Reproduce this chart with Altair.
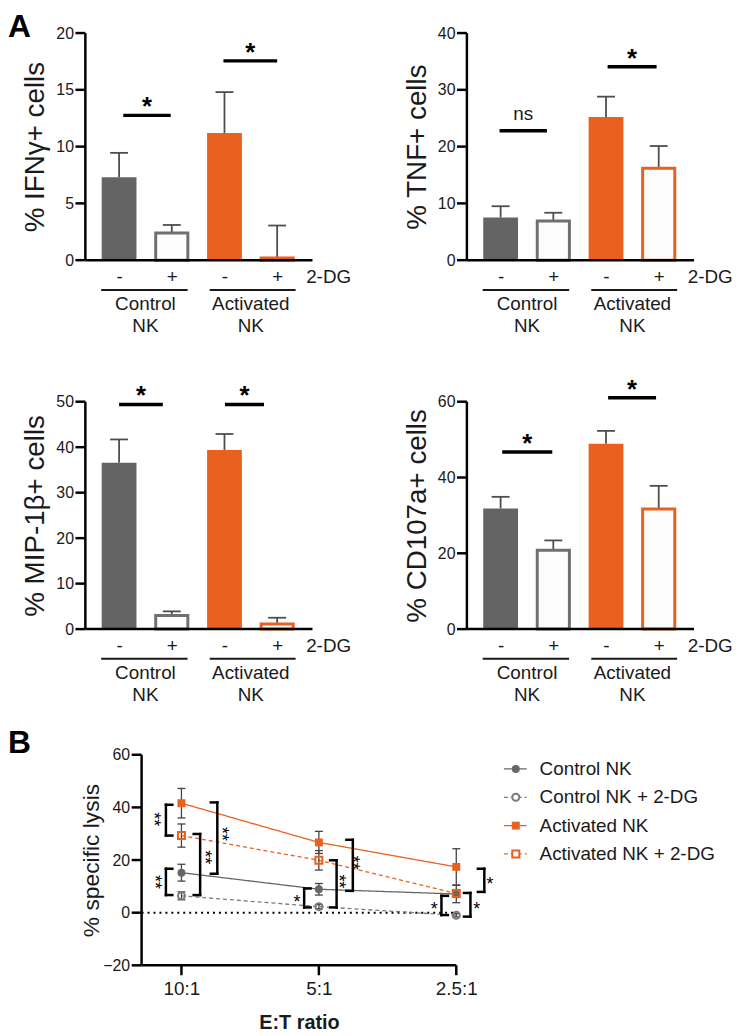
import altair as alt
import pandas as pd

FONT = "Liberation Sans"
INK = "#1a1a1a"
GRAY = "#646464"
GRAY_OPEN = "#707070"
ORANGE = "#EA601E"
ERR = "#4d4d4d"
B_GRAY = "#666666"
B_GRAY2 = "#7a7a7a"
AXW = 2.5  # axis line width

CW, CH = 730, 1028  # whole drawing surface

# ================= Panel A data =================
conditions = ["Control NK -", "Control NK +", "Activated NK -", "Activated NK +"]
groups = ["Control NK", "Control NK", "Activated NK", "Activated NK"]
dg = ["-", "+", "-", "+"]
group_labels = ["Control\nNK", "Activated\nNK"]
dg_text = ["2-DG"]

ifng_mean = [7.3, 2.4, 11.2, 0.2]
ifng_top = [9.45, 3.1, 14.8, 3.05]
tnf_mean = [7.5, 6.9, 25.2, 16.2]
tnf_top = [9.5, 8.35, 28.8, 20.1]
mip_mean = [36.6, 3.0, 39.4, 1.1]
mip_top = [41.7, 3.9, 42.9, 2.5]
cd_mean = [31.8, 20.8, 48.9, 31.7]
cd_top = [34.9, 23.4, 52.3, 37.8]

# significance bars: from, to, height, label
ifng_sig = [[0.08, 0.98, 12.75, "*"], [1.98, 3.00, 17.55, "*"]]
tnf_sig = [[-0.02, 0.88, 22.8, "ns"], [2.03, 2.96, 34.05, "*"]]
mip_sig = [[0.00, 0.83, 49.4, "*"], [2.01, 2.75, 49.4, "*"]]
cd_sig = [[0.03, 0.98, 46.7, "*"], [2.04, 2.95, 61.05, "*"]]

# ================= Panel B data =================
ratios = ["10:1", "5:1", "2.5:1"]
series = ["Control NK", "Control NK + 2-DG", "Activated NK", "Activated NK + 2-DG"]
ctrl = [15.2, 8.9, 7.1]
ctrl_err = [3.2, 2.2, 3.3]
ctrl_dg = [6.4, 2.3, -1.0]
ctrl_dg_err = [1.5, 0.8, 0.6]
act = [41.6, 26.7, 17.4]
act_err = [5.6, 4.2, 6.9]
act_dg = [29.3, 19.9, 7.3]
act_dg_err = [4.4, 3.7, 1.5]
lysis_ticks = [-20, 0, 20, 40, 60]

# brackets: vertical x, tick end x, y1, y2, label, label x, label y, rotated
brackets = [
    [-0.113, -0.066, 41.0, 29.3, "**", -0.172, 35.5, 1],
    [-0.113, -0.066, 16.7, 6.7, "**", -0.165, 11.7, 1],
    [0.136, 0.089, 29.9, 6.7, "**", 0.203, 21.1, 1],
    [0.261, 0.214, 41.9, 14.8, "**", 0.323, 29.9, 1],
    [0.893, 0.940, 9.2, 2.0, "*", 0.840, 5.4, 0],
    [1.129, 1.082, 19.9, 2.0, "**", 1.175, 11.9, 1],
    [1.247, 1.200, 27.7, 8.3, "**", 1.278, 19.0, 1],
    [1.892, 1.939, 6.4, -0.9, "*", 1.839, 2.9, 0],
    [2.103, 2.056, 7.5, -1.5, "*", 2.149, 2.9, 0],
    [2.204, 2.157, 16.7, 7.9, "*", 2.245, 12.3, 0],
]

XD = [-0.64, 3.67]
DG_EXPR = "[" + ",".join("'%s'" % s for s in dg) + "][datum.value]"
RATIO_EXPR = "[" + ",".join("'%s'" % s for s in ratios) + "][datum.value]"


def bar_panel(left, top, w, h, title, mean, tops, sig, ymax, yticks):
    bottom = top + h
    df = pd.DataFrame({"pos": [0, 1, 2, 3], "cond": conditions, "group": groups,
                       "dg": dg, "mean": mean, "top": tops})
    sig_df = pd.DataFrame(sig, columns=["s1", "s2", "sy", "lab"])
    grp_df = pd.DataFrame({"gpos": [0.5, 2.5], "glab": group_labels})
    und_df = pd.DataFrame({"u1": [-0.34, 1.72], "u2": [1.30, 3.35]})
    dg_df = pd.DataFrame({"tpos": [3.55], "t": dg_text})
    tick_df = pd.DataFrame({"t": yticks})
    dom_df = pd.DataFrame({"y0": [0], "y1": [ymax], "x0": [XD[0]], "x1": [XD[1]]})

    xs = alt.Scale(domain=XD, range=[left, left + w], nice=False, zero=False)
    ys = alt.Scale(domain=[0, ymax], range=[bottom, top], nice=False, zero=False)
    x_axis = alt.Axis(orient="bottom", offset=bottom - CH, values=[0, 1, 2, 3],
                      labelExpr=DG_EXPR, ticks=False, domain=False, labelPadding=8,
                      labelFontSize=19, labelFont=FONT, labelColor=INK, labelAngle=0,
                      labelFlush=False, grid=False, title=None)
    y_axis = alt.Axis(orient="left", offset=-left, values=yticks, title=title,
                      titleFont=FONT, titleFontSize=28, titleFontWeight="normal",
                      titleColor=INK, titleX=-42, titleY=top + h / 2, titleAngle=270,
                      titleAlign="center", titleBaseline="alphabetic",
                      labelFont=FONT, labelFontSize=16, labelColor=INK, labelPadding=12,
                      ticks=False, domain=False, grid=False)

    # every layer carries the same axis definition so they merge into one axis
    def X(f):
        return alt.X(f, type="quantitative", scale=xs, axis=x_axis)

    def Y(f):
        return alt.Y(f, type="quantitative", scale=ys, axis=y_axis)

    is_ctrl = alt.datum.group == "Control NK"

    err = alt.Chart(df).mark_rule(color=ERR, strokeWidth=1.8).encode(
        x=X("pos"), y=Y("mean"), y2="top")
    cap = alt.Chart(df).transform_calculate(
        c1="datum.pos - 0.17", c2="datum.pos + 0.17"
    ).mark_rule(color=ERR, strokeWidth=1.8).encode(x=X("c1"), x2="c2", y=Y("top"))
    filled = alt.Chart(df).transform_filter(alt.datum.dg == "-").transform_calculate(
        b1="datum.pos - 0.33", b2="datum.pos + 0.33", zero="0"
    ).mark_rect().encode(
        x=X("b1"), x2="b2", y=Y("mean"), y2="zero",
        fill=alt.when(is_ctrl).then(alt.value(GRAY)).otherwise(alt.value(ORANGE)))
    hollow = alt.Chart(df).transform_filter(alt.datum.dg == "+").transform_calculate(
        b1="datum.pos - 0.305", b2="datum.pos + 0.305", zero="0"
    ).mark_rect(fill="#fdfdfd", strokeWidth=3).encode(
        x=X("b1"), x2="b2", y=Y("mean"), y2="zero",
        stroke=alt.when(is_ctrl).then(alt.value(GRAY_OPEN)).otherwise(alt.value(ORANGE)))
    # axis lines and ticks (drawn through the panel scales)
    ydom = alt.Chart(dom_df).mark_rule(color="black", strokeWidth=AXW).encode(
        x=alt.value(left), y=Y("y0"), y2="y1")
    xdom = alt.Chart(dom_df).mark_rule(color="black", strokeWidth=AXW).encode(
        x=X("x0"), x2="x1", y=Y("y0"))
    yt = alt.Chart(tick_df).mark_rule(color="black", strokeWidth=AXW).encode(
        x=alt.value(left - 10), x2=alt.value(left), y=Y("t"))
    sig_line = alt.Chart(sig_df).mark_rule(color="black", strokeWidth=3.5).encode(
        x=X("s1"), x2="s2", y=Y("sy"))
    stars = alt.Chart(sig_df).transform_filter(alt.datum.lab == "*").transform_calculate(
        sm="(datum.s1 + datum.s2) / 2"
    ).mark_text(font=FONT, fontSize=26, fontWeight="bold", baseline="alphabetic",
                align="center", color="black").encode(x=X("sm"), y=Y("sy"), text="lab:N")
    ns = alt.Chart(sig_df).transform_filter(alt.datum.lab == "ns").transform_calculate(
        sm="(datum.s1 + datum.s2) / 2"
    ).mark_text(font=FONT, fontSize=19, baseline="alphabetic", align="center",
                color=INK, dy=-11).encode(x=X("sm"), y=Y("sy"), text="lab:N")
    glab = alt.Chart(grp_df).mark_text(font=FONT, fontSize=19, color=INK, lineBreak="\n",
                                       lineHeight=22, baseline="alphabetic",
                                       align="center").encode(
        x=X("gpos"), y=alt.value(bottom + 50), text="glab:N")
    under = alt.Chart(und_df).mark_rule(color=INK, strokeWidth=2).encode(
        x=X("u1"), x2="u2", y=alt.value(bottom + 30))
    dgl = alt.Chart(dg_df).mark_text(font=FONT, fontSize=19, color=INK, align="left",
                                     baseline="alphabetic").encode(
        x=X("tpos"), y=alt.value(bottom + 23), text="t:N")
    return alt.layer(err, cap, filled, hollow, ydom, xdom, yt, sig_line, stars, ns,
                     glab, under, dgl)


p1 = bar_panel(78, 21, 229, 229, "% IFNγ+ cells", ifng_mean, ifng_top, ifng_sig, 20, [0, 5, 10, 15, 20])
p2 = bar_panel(462.7, 21, 229, 229, "% TNF+ cells", tnf_mean, tnf_top, tnf_sig, 40, [0, 10, 20, 30, 40])
p3 = bar_panel(78, 392.7, 229, 229.3, "% MIP-1β+ cells", mip_mean, mip_top, mip_sig, 50, [0, 10, 20, 30, 40, 50])
p4 = bar_panel(462.7, 392.7, 229, 229.3, "% CD107a+ cells", cd_mean, cd_top, cd_sig, 60, [0, 20, 40, 60])

# ================= Panel B =================
col_scale = alt.Scale(domain=series, range=[B_GRAY, B_GRAY2, ORANGE, ORANGE])
dash_scale = alt.Scale(domain=series, range=[[1, 0], [4, 3], [1, 0], [4, 3]])
shape_scale = alt.Scale(domain=series, range=["circle", "circle", "square", "square"])
filled_series = [series[0], series[2]]
open_series = [series[1], series[3]]


def panel_b():
    bl, bt, bw, bh = 134.7, 748.7, 317.3, 212.3
    bb = bt + bh
    BXD = [-0.29, 2.0]
    xs = alt.Scale(domain=BXD, range=[bl, bl + bw], nice=False, zero=False)
    ys = alt.Scale(domain=[lysis_ticks[0], lysis_ticks[-1]], range=[bb, bt], nice=False, zero=False)
    x_axis = alt.Axis(orient="bottom", offset=bb - CH, values=[0, 1, 2], labelExpr=RATIO_EXPR,
                      labelFlush=False, labelAngle=0, labelFont=FONT, labelFontSize=19,
                      labelColor=INK, labelPadding=14, ticks=False, domain=False, grid=False,
                      title="E:T ratio", titleFont=FONT, titleFontSize=20,
                      titleFontWeight="bold", titleColor=INK, titleX=bl + bw / 2,
                      titleY=64, titleAlign="center", titleBaseline="alphabetic", titleAngle=0)
    y_axis = alt.Axis(orient="left", offset=-bl, values=lysis_ticks,
                      title="% specific lysis", titleFont=FONT, titleFontSize=23,
                      titleFontWeight="normal", titleColor=INK, titleX=-43,
                      titleY=bt + bh / 2, titleAngle=270, titleAlign="center",
                      titleBaseline="alphabetic", labelFont=FONT, labelFontSize=16,
                      labelColor=INK, labelPadding=12, ticks=False, domain=False, grid=False)

    def X(f):
        return alt.X(f, type="quantitative", scale=xs, axis=x_axis)

    def Y(f):
        return alt.Y(f, type="quantitative", scale=ys, axis=y_axis)

    rows = []
    for s, m, e in zip(series, [ctrl, ctrl_dg, act, act_dg],
                       [ctrl_err, ctrl_dg_err, act_err, act_dg_err]):
        for i in range(len(ratios)):
            rows.append({"series": s, "xi": i, "v": m[i], "lo": m[i] - e[i], "hi": m[i] + e[i]})
    d = pd.DataFrame(rows)

    segs = []
    for b in brackets:
        xv, xt, y1, y2 = b[0], b[1], b[2], b[3]
        segs.append({"xa": xv, "xb": xv, "ya": y1, "yb": y2})
        segs.append({"xa": xv, "xb": xt, "ya": y1, "yb": y1})
        segs.append({"xa": xv, "xb": xt, "ya": y2, "yb": y2})
    seg_df = pd.DataFrame(segs)
    lab_df = pd.DataFrame([{"lab": b[4], "lx": b[5], "ly": b[6], "rot": b[7]} for b in brackets])
    dom_df = pd.DataFrame({"y0": [lysis_ticks[0]], "y1": [lysis_ticks[-1]],
                           "x0": [BXD[0]], "x1": [BXD[1]]})
    yt_df = pd.DataFrame({"t": lysis_ticks})
    xt_df = pd.DataFrame({"t": list(range(len(ratios)))})

    zero = alt.Chart(pd.DataFrame({"z": [0]})).mark_rule(
        color="black", strokeWidth=2, strokeDash=[2, 4]).encode(
        x=alt.value(bl), x2=alt.value(bl + bw + 3), y=Y("z"))
    ydom = alt.Chart(dom_df).mark_rule(color="black", strokeWidth=AXW).encode(
        x=alt.value(bl), y=Y("y0"), y2="y1")
    xdom = alt.Chart(dom_df).mark_rule(color="black", strokeWidth=AXW).encode(
        x=X("x0"), x2="x1", y=Y("y0"))
    ytk = alt.Chart(yt_df).mark_rule(color="black", strokeWidth=AXW).encode(
        x=alt.value(bl - 10), x2=alt.value(bl), y=Y("t"))
    xtk = alt.Chart(xt_df).mark_rule(color="black", strokeWidth=AXW).encode(
        x=X("t"), y=alt.value(bb), y2=alt.value(bb + 10))
    errs = alt.Chart(d).mark_rule(color="#444444", strokeWidth=1.3).encode(
        x=X("xi"), y=Y("lo"), y2="hi")
    caps_lo = alt.Chart(d).transform_calculate(
        c1="datum.xi - 0.029", c2="datum.xi + 0.029"
    ).mark_rule(color="#444444", strokeWidth=1.3).encode(x=X("c1"), x2="c2", y=Y("lo"))
    caps_hi = alt.Chart(d).transform_calculate(
        c1="datum.xi - 0.029", c2="datum.xi + 0.029"
    ).mark_rule(color="#444444", strokeWidth=1.3).encode(x=X("c1"), x2="c2", y=Y("hi"))
    lines = alt.Chart(d).mark_line(strokeWidth=1.3).encode(
        x=X("xi"), y=Y("v"),
        color=alt.Color("series:N", scale=col_scale, legend=None),
        strokeDash=alt.StrokeDash("series:N", scale=dash_scale, legend=None))
    pts_f = alt.Chart(d).transform_filter(
        alt.FieldOneOfPredicate(field="series", oneOf=filled_series)
    ).mark_point(filled=True, size=64, opacity=1).encode(
        x=X("xi"), y=Y("v"),
        color=alt.Color("series:N", scale=col_scale, legend=None),
        shape=alt.Shape("series:N", scale=shape_scale, legend=None))
    pts_o = alt.Chart(d).transform_filter(
        alt.FieldOneOfPredicate(field="series", oneOf=open_series)
    ).mark_point(filled=False, size=50, strokeWidth=2, opacity=1).encode(
        x=X("xi"), y=Y("v"),
        color=alt.Color("series:N", scale=col_scale, legend=None),
        shape=alt.Shape("series:N", scale=shape_scale, legend=None))
    brk = alt.Chart(seg_df).mark_rule(color="black", strokeWidth=2.5, strokeCap="square").encode(
        x=X("xa"), x2="xb", y=Y("ya"), y2="yb")
    lab_rot = alt.Chart(lab_df).transform_filter(alt.datum.rot == 1).mark_text(
        font=FONT, fontSize=18, angle=90, baseline="middle", align="center",
        dy=5, color="black").encode(x=X("lx"), y=Y("ly"), text="lab:N")
    lab_flat = alt.Chart(lab_df).transform_filter(alt.datum.rot == 0).mark_text(
        font=FONT, fontSize=18, baseline="middle", align="center",
        dy=5, color="black").encode(x=X("lx"), y=Y("ly"), text="lab:N")
    return alt.layer(zero, ydom, xdom, ytk, xtk, lines, errs, caps_lo, caps_hi, pts_f,
                     pts_o, brk, lab_rot, lab_flat)


pb = panel_b()

# legend for panel B
leg = pd.DataFrame({"series": series, "idx": list(range(len(series)))})
ly = alt.Y("idx:Q", scale=alt.Scale(domain=[0, 3], range=[763, 848.7]), axis=None)
leg_line = alt.Chart(leg).mark_rule(strokeWidth=1.3).encode(
    x=alt.value(500), x2=alt.value(523), y=ly,
    color=alt.Color("series:N", scale=col_scale, legend=None),
    strokeDash=alt.StrokeDash("series:N", scale=dash_scale, legend=None))
leg_pf = alt.Chart(leg).transform_filter(
    alt.FieldOneOfPredicate(field="series", oneOf=filled_series)
).mark_point(filled=True, size=64, opacity=1).encode(
    x=alt.value(512), y=ly,
    color=alt.Color("series:N", scale=col_scale, legend=None),
    shape=alt.Shape("series:N", scale=shape_scale, legend=None))
leg_po = alt.Chart(leg).transform_filter(
    alt.FieldOneOfPredicate(field="series", oneOf=open_series)
).mark_point(filled=False, size=50, strokeWidth=2, opacity=1, fill="white").encode(
    x=alt.value(512), y=ly,
    color=alt.Color("series:N", scale=col_scale, legend=None),
    shape=alt.Shape("series:N", scale=shape_scale, legend=None))
leg_txt = alt.Chart(leg).mark_text(font=FONT, fontSize=19, color=INK, align="left",
                                   baseline="middle").encode(
    x=alt.value(536), y=ly, text="series:N")
legend = alt.layer(leg_line, leg_pf, leg_po, leg_txt)

lab_a = alt.Chart(pd.DataFrame({"t": ["A"]})).mark_text(
    font=FONT, fontSize=32, fontWeight="bold", align="left", baseline="alphabetic",
    color="black").encode(x=alt.value(0), y=alt.value(25), text="t:N")
lab_b = alt.Chart(pd.DataFrame({"t": ["B"]})).mark_text(
    font=FONT, fontSize=32, fontWeight="bold", align="left", baseline="alphabetic",
    color="black").encode(x=alt.value(0), y=alt.value(747), text="t:N")

chart = alt.layer(p1, p2, p3, p4, pb, legend, lab_a, lab_b).resolve_scale(
    x="independent", y="independent"
).properties(
    width=CW, height=CH, autosize=alt.AutoSizeParams(type="none"), padding=0
).configure_view(strokeWidth=0)

chart.save("out.html", embed_options={"renderer": "svg", "actions": False})
